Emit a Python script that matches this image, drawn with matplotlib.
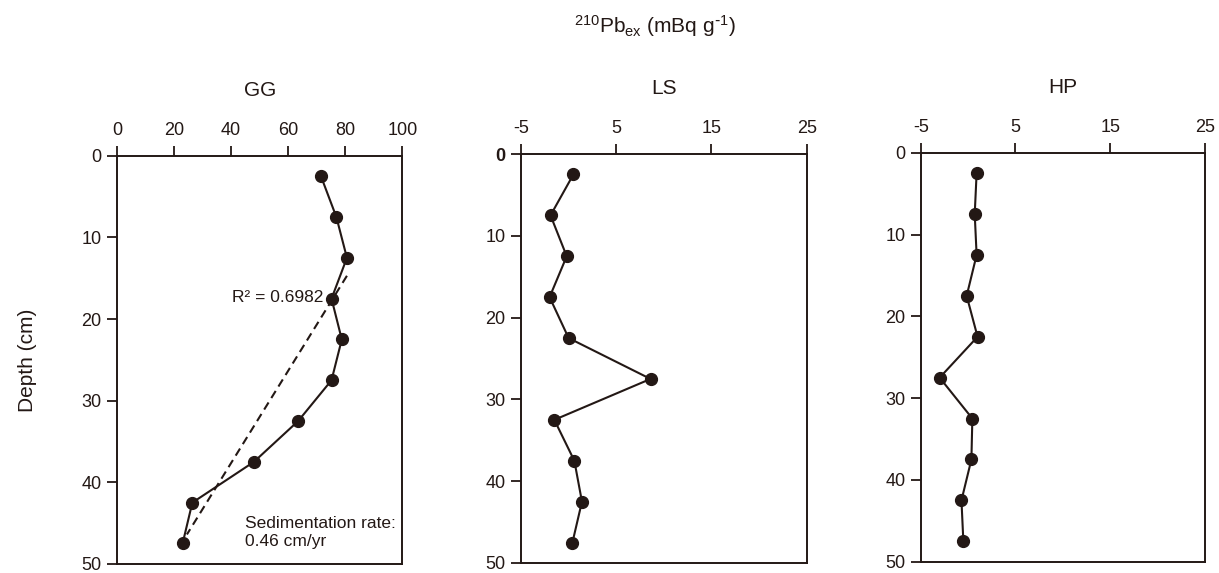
import numpy as np
import matplotlib.pyplot as plt

plt.rcParams['font.family'] = ['Liberation Sans', 'DejaVu Sans']
plt.rcParams['mathtext.default'] = 'regular'

ink = '#231815'

# depth of sample midpoints (cm)
depth = [2.5, 7.5, 12.5, 17.5, 22.5, 27.5, 32.5, 37.5, 42.5, 47.5]

# 210Pb excess (mBq/g) per site
gg = [71.5, 76.9, 80.6, 75.2, 78.8, 75.2, 63.5, 48.0, 26.4, 23.0]
ls = [0.5, -1.9, -0.2, -2.0, 0.0, 8.6, -1.5, 0.6, 1.4, 0.4]
hp = [0.9, 0.7, 0.9, -0.15, 1.0, -3.0, 0.45, 0.35, -0.7, -0.5]

# regression trend line for GG (value, depth)
fit_x = [80.6, 24.5]
fit_depth = [14.7, 46.4]

sites = ['GG', 'LS', 'HP']
values = [gg, ls, hp]
xlims = [(0, 100), (-5, 25), (-5, 25)]
xticks = [[0, 20, 40, 60, 80, 100], [-5, 5, 15, 25], [-5, 5, 15, 25]]
yticks = [0, 10, 20, 30, 40, 50]

fig = plt.figure(figsize=(12.19, 5.73), dpi=100)
boxes = [[0.096, 0.016, 0.234, 0.712],
         [0.4274, 0.0175, 0.2344, 0.7137],
         [0.7553, 0.0197, 0.2332, 0.7138]]

for i in range(3):
    ax = fig.add_axes(boxes[i])
    ax.plot(values[i], depth, color=ink, lw=1.5, marker='o', ms=8.5,
            mfc=ink, mec=ink, zorder=3)
    ax.set_xlim(*xlims[i])
    ax.set_ylim(50, 0)
    ax.xaxis.set_ticks_position('top')
    ax.xaxis.set_label_position('top')
    ax.set_xticks(xticks[i])
    ax.set_xticklabels([str(t) for t in xticks[i]])
    ax.set_yticks(yticks)
    ax.set_yticklabels([str(t) for t in yticks])
    ax.tick_params(direction='out', length=7, width=1.3, colors=ink,
                   labelsize=13, pad=4)
    ax.tick_params(axis='x', pad=5)
    for s in ax.spines.values():
        s.set_color(ink)
        s.set_linewidth(1.4)
    ax.set_title(sites[i], fontsize=15, color=ink, pad=43)
    if i == 1:
        ax.get_yticklabels()[0].set_fontweight('bold')
    if i == 0:
        ax.plot(fit_x, fit_depth, color=ink, lw=1.5, ls=(0, (4, 2.5)), zorder=2)
        ax.text(72.5, 17.3, 'R² = 0.6982', fontsize=12.5, color=ink,
                ha='right', va='center')
        ax.text(45, 46.2, 'Sedimentation rate:\n0.46 cm/yr', fontsize=12.5,
                color=ink, ha='left', va='center', linespacing=1.25)
        ax.set_ylabel('Depth (cm)', fontsize=15, color=ink, labelpad=32)

fig.text(0.537, 0.955, r'$^{210}$Pb$_{ex}$ (mBq g$^{\text{-}1}$)', fontsize=15,
         color=ink, ha='center', va='center')

plt.savefig('out.png', dpi=100)
